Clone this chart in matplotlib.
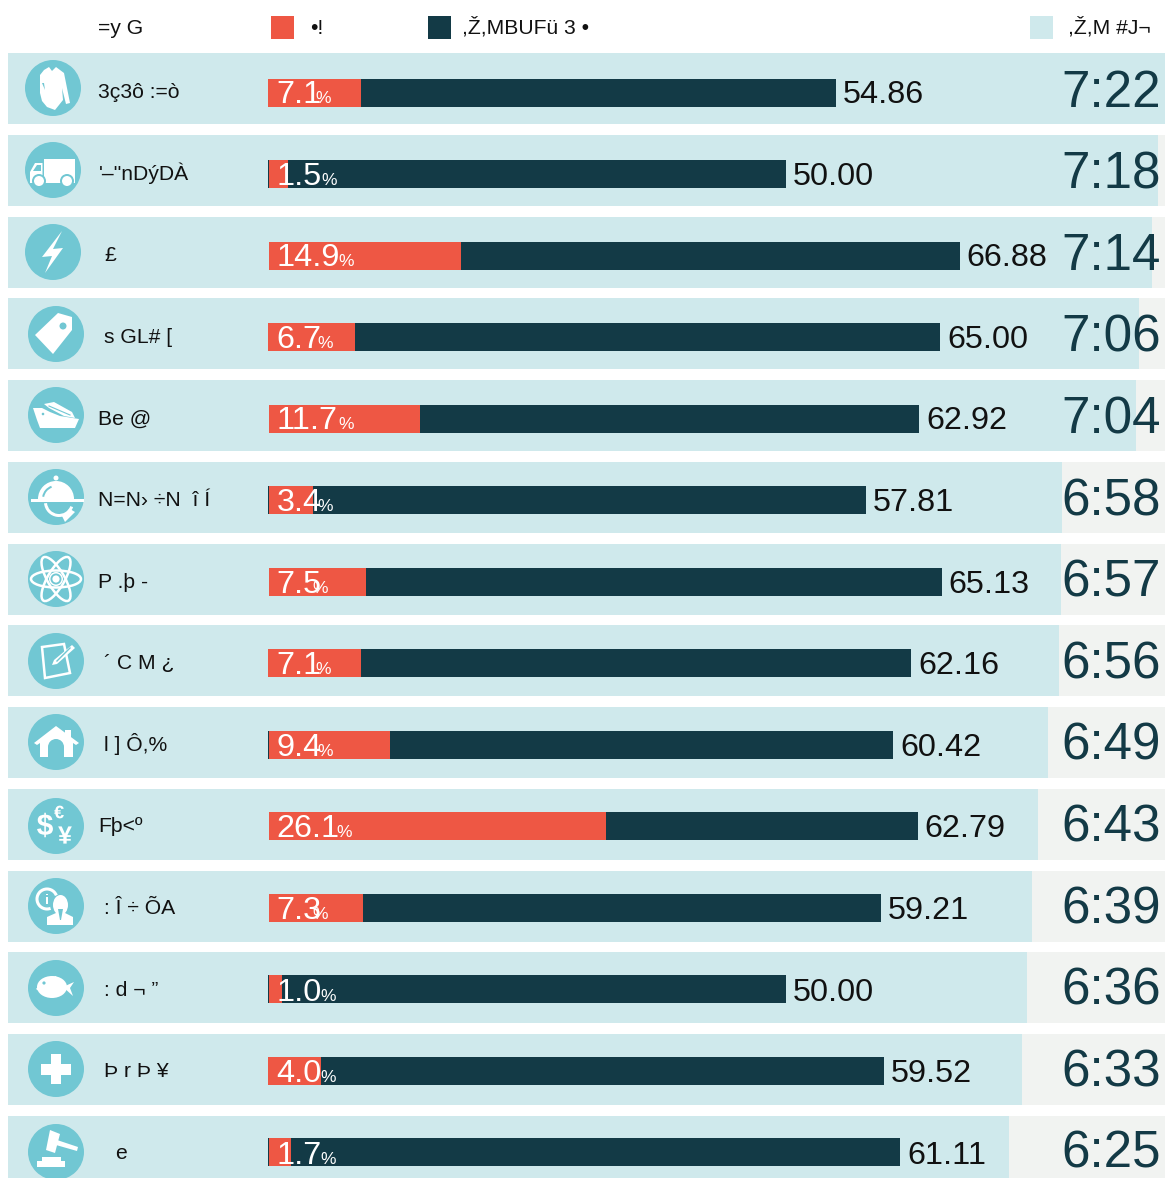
import matplotlib
matplotlib.use('Agg')
import matplotlib.pyplot as plt
from matplotlib.patches import Polygon, Circle, Ellipse, Wedge, Rectangle, PathPatch
from matplotlib.textpath import TextPath
from matplotlib.font_manager import FontProperties
from matplotlib.transforms import Affine2D

plt.rcParams['font.family'] = ['Liberation Sans', 'DejaVu Sans']

# ---- data ----
categories = ['3ç3ô :=ò', "'–\"nDýDÀ", '£', 's GL# [', 'Be @', 'N=N› ÷N  î Í', 'P .þ -',
              '´ C M ¿', 'l ] Ô,%', 'Fþ<º', ': Î ÷ ÕA', ': d ¬ ”', 'Þ r Þ ¥', 'e']
pct_values = [7.1, 1.5, 14.9, 6.7, 11.7, 3.4, 7.5, 7.1, 9.4, 26.1, 7.3, 1.0, 4.0, 1.7]
dark_values = [54.86, 50.00, 66.88, 65.00, 62.92, 57.81, 65.13, 62.16, 60.42, 62.79, 59.21, 50.00, 59.52, 61.11]
time_values = [7.22, 7.18, 7.14, 7.06, 7.04, 6.58, 6.57, 6.56, 6.49, 6.43, 6.39, 6.36, 6.33, 6.25]
time_labels = ['7:22', '7:18', '7:14', '7:06', '7:04', '6:58', '6:57', '6:56', '6:49', '6:43', '6:39', '6:36', '6:33', '6:25']
legend_labels = ['=y G', '•!', ',Ž,MBUFü 3 •', ',Ž,M #J¬']

# ---- style and layout ----
W, H = 1169, 1178
RED, DARK, LIGHT, TRACK, TEAL = '#EE5744', '#133A46', '#CFE9EC', '#F1F3F1', '#71C7D3'
TXT = '#111111'
ROW0, PITCH, ROW_H = 88.5, 81.77, 71
BAR0, BAR_PITCH, BAR_H = 93, 81.46, 28
TEXT_PITCH = 81.6
label_px = [98.5, 98.5, 104.5, 104.5, 98.5, 98.5, 98.5, 104.5, 104.5, 98.5, 104.5, 104.5, 104.5, 115.5]
pct_px = [315, 321, 338, 317, 338, 317, 312, 315, 317, 336, 312, 320, 320, 320]
icon_x = [53, 53, 53] + [56] * 11
icon_y = [88, 170, 252, 334, 415, 497, 579, 661, 742, 826, 906, 988, 1069, 1152]
dark_left_px = [269, 268, 269, 268, 269, 268, 269, 268, 268, 269, 269, 268, 268, 268]
red_left_px = [268, 269, 269, 268, 269, 269, 269, 268, 269, 269, 269, 269, 268, 269]

fig = plt.figure(figsize=(W / 100, H / 100), dpi=100, facecolor='white')


def layer(xlim):
    ax = fig.add_axes([0, 0, 1, 1], facecolor='none')
    ax.set_xlim(*xlim)
    ax.set_ylim(H, 0)
    ax.axis('off')
    return ax


# one full-figure axes per measure, each with its own horizontal scale
TIME_K, DARK_K, PCT_K = 160.2, 10.33, 12.9
ORIGIN = 269
ax_t = layer((-8 / TIME_K, (W - 8) / TIME_K))
ax_d = layer((-ORIGIN / DARK_K, (W - ORIGIN) / DARK_K))
ax_p = layer((-ORIGIN / PCT_K, (W - ORIGIN) / PCT_K))
ax = layer((0, W))

n = len(categories)
rows = [ROW0 + PITCH * i for i in range(n)]
bar_y = [BAR0 + BAR_PITCH * i for i in range(n)]

ax_t.barh(rows, [max(time_values)] * n, height=ROW_H, color=TRACK, linewidth=0)
ax_t.barh(rows, time_values, height=ROW_H, color=LIGHT, linewidth=0)
dark_shift = [(p - ORIGIN) / DARK_K for p in dark_left_px]
red_shift = [(p - ORIGIN) / PCT_K for p in red_left_px]
ax_d.barh(bar_y, [v - s for v, s in zip(dark_values, dark_shift)], left=dark_shift,
          height=BAR_H, color=DARK, linewidth=0)
ax_p.barh(bar_y, [v - s for v, s in zip(pct_values, red_shift)], left=red_shift,
          height=BAR_H, color=RED, linewidth=0)

for i in range(n):
    t = TEXT_PITCH * i
    ax.text(label_px[i], 98 + t, categories[i], fontsize=15.2, color=TXT, va='baseline', ha='left')
    ax.text(276.5, 103 + t, f'{pct_values[i]:.1f}', fontsize=23.3, color='white', va='baseline', ha='left')
    ax.text(pct_px[i], 103 + t, '%', fontsize=12.5, color='white', va='baseline', ha='left')
    ax_d.annotate(f'{dark_values[i]:.2f}', (dark_values[i], 103 + t), xytext=(5, 0),
                  textcoords='offset points', fontsize=23.3, color=TXT, va='baseline', ha='left')
    ax.text(1061, 107 + t, time_labels[i], fontsize=36.8, color=DARK, va='baseline', ha='left')

# legend
for x, c in [(271, RED), (428, DARK), (1030, LIGHT)]:
    ax.add_patch(Rectangle((x, 16), 23, 23, color=c, lw=0))
for x, s in zip([98.5, 310, 462.5, 1068], legend_labels):
    ax.text(x, 34, s, fontsize=15.2, color=TXT, va='baseline', ha='left')


# ---- icons (white glyphs on teal discs) ----
def P(cx, cy, pts, c='white'):
    ax.add_patch(Polygon([(cx + a, cy + b) for a, b in pts], closed=True, fc=c, ec='none'))


def C(cx, cy, a, b, r, c='white'):
    ax.add_patch(Circle((cx + a, cy + b), r, fc=c, ec='none'))


def R(cx, cy, a0, b0, a1, b1, c='white'):
    ax.add_patch(Rectangle((cx + a0, cy + b0), a1 - a0, b1 - b0, fc=c, ec='none'))


def G(cx, cy, a, b, s, size):
    fp = FontProperties(family='Liberation Sans', weight='bold')
    tp = TextPath((0, 0), s, size=size, prop=fp)
    ext = tp.get_extents()
    tr = Affine2D().translate(-ext.x0 - ext.width / 2, -ext.y0 - ext.height / 2).scale(1, -1).translate(cx + a, cy + b)
    ax.add_patch(PathPatch(tr.transform_path(tp), fc='white', ec='none'))


def shirt(x, y):
    P(x, y, [(-4, -21), (-1, -17), (3, -21), (11, -15), (17, 15), (13, 16), (9, 0), (10, 12),
             (2, 22), (-6, 19), (-11, 13), (-13, 5), (-13, -13), (-9, -18)])
    P(x, y, [(-11, -5), (-9, -5), (-8, 2)], TEAL)


def truck(x, y):
    R(x, y, -9, -11, 22, 13)
    P(x, y, [(-23, 13), (-23, 2), (-18, -7), (-10.5, -7), (-10.5, 13)])
    P(x, y, [(-20, 1), (-16, -5), (-12, -5), (-12, 1)], TEAL)
    for a in (-14, 14):
        C(x, y, a, 11, 7, TEAL)
        C(x, y, a, 11, 5)


def bolt(x, y):
    P(x, y, [(9, -21), (-11, 5), (-1, 4), (-8, 21), (10, -4), (0, -3)])


def tag(x, y):
    P(x, y, [(-21, 1), (2, -21), (16, -17), (16, -4), (-3, 20)])
    C(x, y, 7, -8, 3.5, TEAL)


def ship(x, y):
    P(x, y, [(-23, -7), (-14, -7), (-6, -3), (4, 1), (23, 4), (19, 13), (-16, 13), (-19, 5)])
    P(x, y, [(-12, -11), (-2, -13), (16, -3), (19, 3), (8, 1), (-7, -7)])
    ax.plot([x - 7, x + 14], [y - 9, y], color=TEAL, lw=0.8)
    C(x, y, -13, -1, 1.3, TEAL)


def cloche(x, y):
    ax.add_patch(Wedge((x, y + 2), 18, 180, 360, fc='white', ec='none'))
    ax.add_patch(Wedge((x, y + 2), 14, 190, 250, width=2, fc=TEAL, ec='none'))
    C(x, y, 0, -19, 2.5)
    R(x, y, -25, 2, 28, 5)
    ax.add_patch(Wedge((x + 3, y + 5), 15, 20, 175, width=3, fc='white', ec='none'))
    P(x, y, [(6, 19), (14, 12), (19, 15), (9, 25)])


def atom(x, y):
    for ang in (0, 60, 120):
        ax.add_patch(Ellipse((x, y), 50, 17, angle=ang, fc='none', ec='white', lw=1.8))
    C(x, y, 0, 0, 7)
    C(x, y, 0, 0, 5.5, TEAL)
    C(x, y, 0, 0, 3.6)


def note(x, y):
    ax.add_patch(Polygon([(x - 14, y - 14), (x + 8, y - 17), (x + 14, y + 12), (x - 11, y + 17)],
                         closed=True, fc='none', ec='white', lw=1.8))
    P(x, y, [(16, -16), (19, -13), (1, 3), (-4, 4), (-2, -1)], 'white')
    P(x, y, [(14, -14), (15, -13), (1, 1), (0, 0)], TEAL)


def house(x, y):
    R(x, y, 9, -12, 15, -4)
    P(x, y, [(-22, 1), (0, -16), (23, 1), (20, 3), (17, 1), (17, 15), (-16, 15), (-16, 1), (-19, 3)])
    R(x, y, -8, 5, 8, 15, TEAL)
    C(x, y, 0, 5, 8, TEAL)


def money(x, y):
    G(x, y, -11, -1, '$', 30)
    G(x, y, 3, -14, '€', 18)
    G(x, y, 9, 9, '¥', 25)


def info(x, y):
    ax.add_patch(Circle((x - 9, y - 7), 10, fc='none', ec='white', lw=2.2))
    G(x, y, -9, -7, 'i', 14)
    C(x, y, 4.5, -1, 10.5, TEAL)
    ax.add_patch(Ellipse((x + 4.5, y - 1), 15, 20, fc='white', ec='none'))
    P(x, y, [(-9, 19), (-9, 11), (0, 7), (9, 7), (17, 11), (17, 19)])
    P(x, y, [(2, 3), (7, 3), (5, 14), (4, 14)], TEAL)


def fish(x, y):
    ax.add_patch(Ellipse((x - 4, y - 1), 30, 22, fc='white', ec='none'))
    P(x, y, [(-20, 1), (-12, -8), (0, -12), (2, -6), (9, -1), (2, 8), (-10, 8)])
    P(x, y, [(7, -1), (18, -6), (14, 0), (17, 8)])
    C(x, y, -12, -5, 1.6, TEAL)


def cross(x, y):
    R(x, y, -15, -5.5, 15, 5.5)
    R(x, y, -5, -15, 5, 15)


def gavel(x, y):
    R(x, y, -19, 9, 9, 15)
    R(x, y, -14, 5, 5, 9)
    P(x, y, [(-6, -22), (4, -18), (-1, 1), (-10, -2)])
    P(x, y, [(1, -12), (22, -5), (21, -1), (0, -7)])


icons = [shirt, truck, bolt, tag, ship, cloche, atom, note, house, money, info, fish, cross, gavel]
for fn, cx, cy in zip(icons, icon_x, icon_y):
    ax.add_patch(Circle((cx, cy), 28, fc=TEAL, ec='none'))
    fn(cx, cy)

fig.savefig('out.png', dpi=100, facecolor='white')
